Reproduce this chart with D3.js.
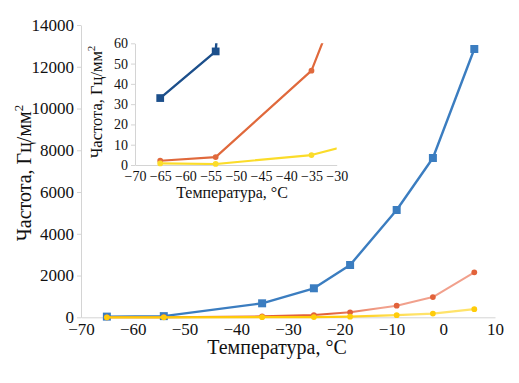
<!DOCTYPE html>
<html><head><meta charset="utf-8">
<script src="https://cdn.jsdelivr.net/npm/d3@7"></script>
<style>
html,body{margin:0;padding:0;background:#fff;}
svg{display:block;}
svg text{font-family:"Liberation Serif","Times New Roman",serif !important;}
</style></head>
<body>
<svg id="c" width="519" height="383"></svg>
<script>
// ---- data ----
const temps = [-65, -54, -35, -25, -18, -9, -2, 6];
const blueValues = [33, 56, 670, 1390, 2505, 5140, 7630, 12850];
const orangeValues = [2.1, 3.9, 46.5, 110, 240, 556, 970, 2155];
const yellowValues = [0.8, 0.5, 4.9, 11.5, 30, 100, 180, 390];
const mainXTicks = [-70, -60, -50, -40, -30, -20, -10, 0, 10];
const mainYTicks = [0, 2000, 4000, 6000, 8000, 10000, 12000, 14000];
const insetXTicks = [-70, -65, -60, -55, -50, -45, -40, -35, -30];
const insetYTicks = [0, 10, 20, 30, 40, 50, 60];
const xTitle = "Температура, °С";
const yTitle = "Частота, Гц/мм";

const svg = d3.select("#c");
const defs = svg.append("defs");
const fmt = v => String(v).replace("-", "\u2212");

function rows(vals){ return temps.map((t,i)=>({t, v: vals[i]})); }

function axisStyle(g, fontSize){
  g.attr("font-family", null).attr("font-size", null);
  g.selectAll(".domain").attr("stroke", "#d4d4d4").attr("stroke-width", 1);
  g.selectAll(".tick line").attr("stroke", "#d4d4d4");
  g.selectAll(".tick text").attr("fill", "#111").style("font-size", fontSize + "px");
}

function marker(sel, shape, size){
  return sel.attr("d", d3.symbol().type(shape).size(size));
}

// ================= MAIN CHART =================
const x = d3.scaleLinear().domain([-70, 10]).range([81, 495]);
const y = d3.scaleLinear().domain([0, 14000]).range([317.3, 25]);

const gx = svg.append("g").attr("transform", `translate(0,${y(0)})`)
  .call(d3.axisBottom(x).tickValues(mainXTicks).tickFormat(fmt).tickSize(0).tickPadding(6));
axisStyle(gx, 17);
const gy = svg.append("g").attr("transform", `translate(${x(-70)},0)`)
  .call(d3.axisLeft(y).tickValues(mainYTicks).tickFormat(d=>d).tickSize(4).tickPadding(3).tickSizeOuter(0));
axisStyle(gy, 17);

// gradients for colour change along x
function grad(id, x1, x2, c1, c2){
  const g = defs.append("linearGradient").attr("id", id).attr("gradientUnits","userSpaceOnUse")
    .attr("x1", x1).attr("x2", x2).attr("y1", 0).attr("y2", 0);
  g.append("stop").attr("offset", 0).attr("stop-color", c1);
  g.append("stop").attr("offset", 1).attr("stop-color", c2);
}
grad("gOrange", x(-22), x(-12), "#e2623a", "#f1a08c");
grad("gYellow", x(-20), x(-5), "#ffcc0a", "#ffe36a");

const line = d3.line().x(d=>x(d.t)).y(d=>y(d.v));
const mainSeries = [
  {vals: blueValues, stroke: "#3b7dc0", fill: "#3b7dc0", shape: d3.symbolSquare, size: 64, w: 2.4},
  {vals: orangeValues, stroke: "url(#gOrange)", fill: "url(#gOrange)", shape: d3.symbolCircle, size: 26, w: 2},
  {vals: yellowValues, stroke: "url(#gYellow)", fill: "url(#gYellow)", shape: d3.symbolCircle, size: 26, w: 2.2},
];
mainSeries.forEach(s=>{
  const data = rows(s.vals);
  svg.append("path").datum(data).attr("d", line).attr("fill","none")
    .attr("stroke", s.stroke).attr("stroke-width", s.w).attr("stroke-linejoin","round");
  svg.append("g").selectAll("path").data(data).join("path")
    .call(marker, s.shape, s.size)
    .attr("transform", d=>`translate(${x(d.t)},${y(d.v)})`)
    .attr("fill", s.fill);
});

// main titles
svg.append("text").attr("x", 277).attr("y", 354).attr("text-anchor","middle")
  .style("font-size", "20px").attr("fill","#111").text(xTitle);
const yt = svg.append("text").attr("transform", "translate(31,173) rotate(-90)")
  .attr("text-anchor","middle").style("font-size", "20px").attr("fill","#111");
yt.append("tspan").text(yTitle);
yt.append("tspan").style("font-size", "13px").attr("dy", -8).text("2");

// ================= INSET CHART =================
const ix = d3.scaleLinear().domain([-70, -30]).range([135, 336.7]);
const iy = d3.scaleLinear().domain([0, 60]).range([165, 43.3]);

const igx = svg.append("g").attr("transform", `translate(0,${iy(0)})`)
  .call(d3.axisBottom(ix).tickValues(insetXTicks).tickFormat(fmt).tickSize(0).tickPadding(6));
axisStyle(igx, 14);
const igy = svg.append("g").attr("transform", `translate(${ix(-70)},0)`)
  .call(d3.axisLeft(iy).tickValues(insetYTicks).tickSize(4).tickPadding(3).tickSizeOuter(0));
axisStyle(igy, 14);

defs.append("clipPath").attr("id","insetClip").append("rect")
  .attr("x", ix(-70)).attr("y", iy(60)).attr("width", ix(-30)-ix(-70)).attr("height", iy(0)-iy(60));

const iline = d3.line().x(d=>ix(d.t)).y(d=>iy(d.v));
const insetSeries = [
  {vals: blueValues, color: "#1c4f8b", shape: d3.symbolSquare, size: 60, w: 2.4},
  {vals: orangeValues, color: "#e0693c", shape: d3.symbolCircle, size: 26, w: 2.2},
  {vals: yellowValues, color: "#fbdc2a", shape: d3.symbolCircle, size: 26, w: 2.2},
];
insetSeries.forEach(s=>{
  const data = rows(s.vals);
  svg.append("path").datum(data).attr("d", iline).attr("fill","none")
    .attr("clip-path","url(#insetClip)")
    .attr("stroke", s.color).attr("stroke-width", s.w).attr("stroke-linejoin","round");
  svg.append("g").selectAll("path").data(data.filter(d=>d.t>=-70 && d.t<=-30 && d.v<=60)).join("path")
    .call(marker, s.shape, s.size)
    .attr("transform", d=>`translate(${ix(d.t)},${iy(d.v)})`)
    .attr("fill", s.color);
});

svg.append("text").attr("x", 232).attr("y", 198).attr("text-anchor","middle")
  .style("font-size", "16px").attr("fill","#111").text(xTitle);
const iyt = svg.append("text").attr("transform", "translate(102,102) rotate(-90)")
  .attr("text-anchor","middle").style("font-size", "16.5px").attr("fill","#111");
iyt.append("tspan").text(yTitle);
iyt.append("tspan").style("font-size", "11px").attr("dy", -7).text("2");
</script>
</body></html>
